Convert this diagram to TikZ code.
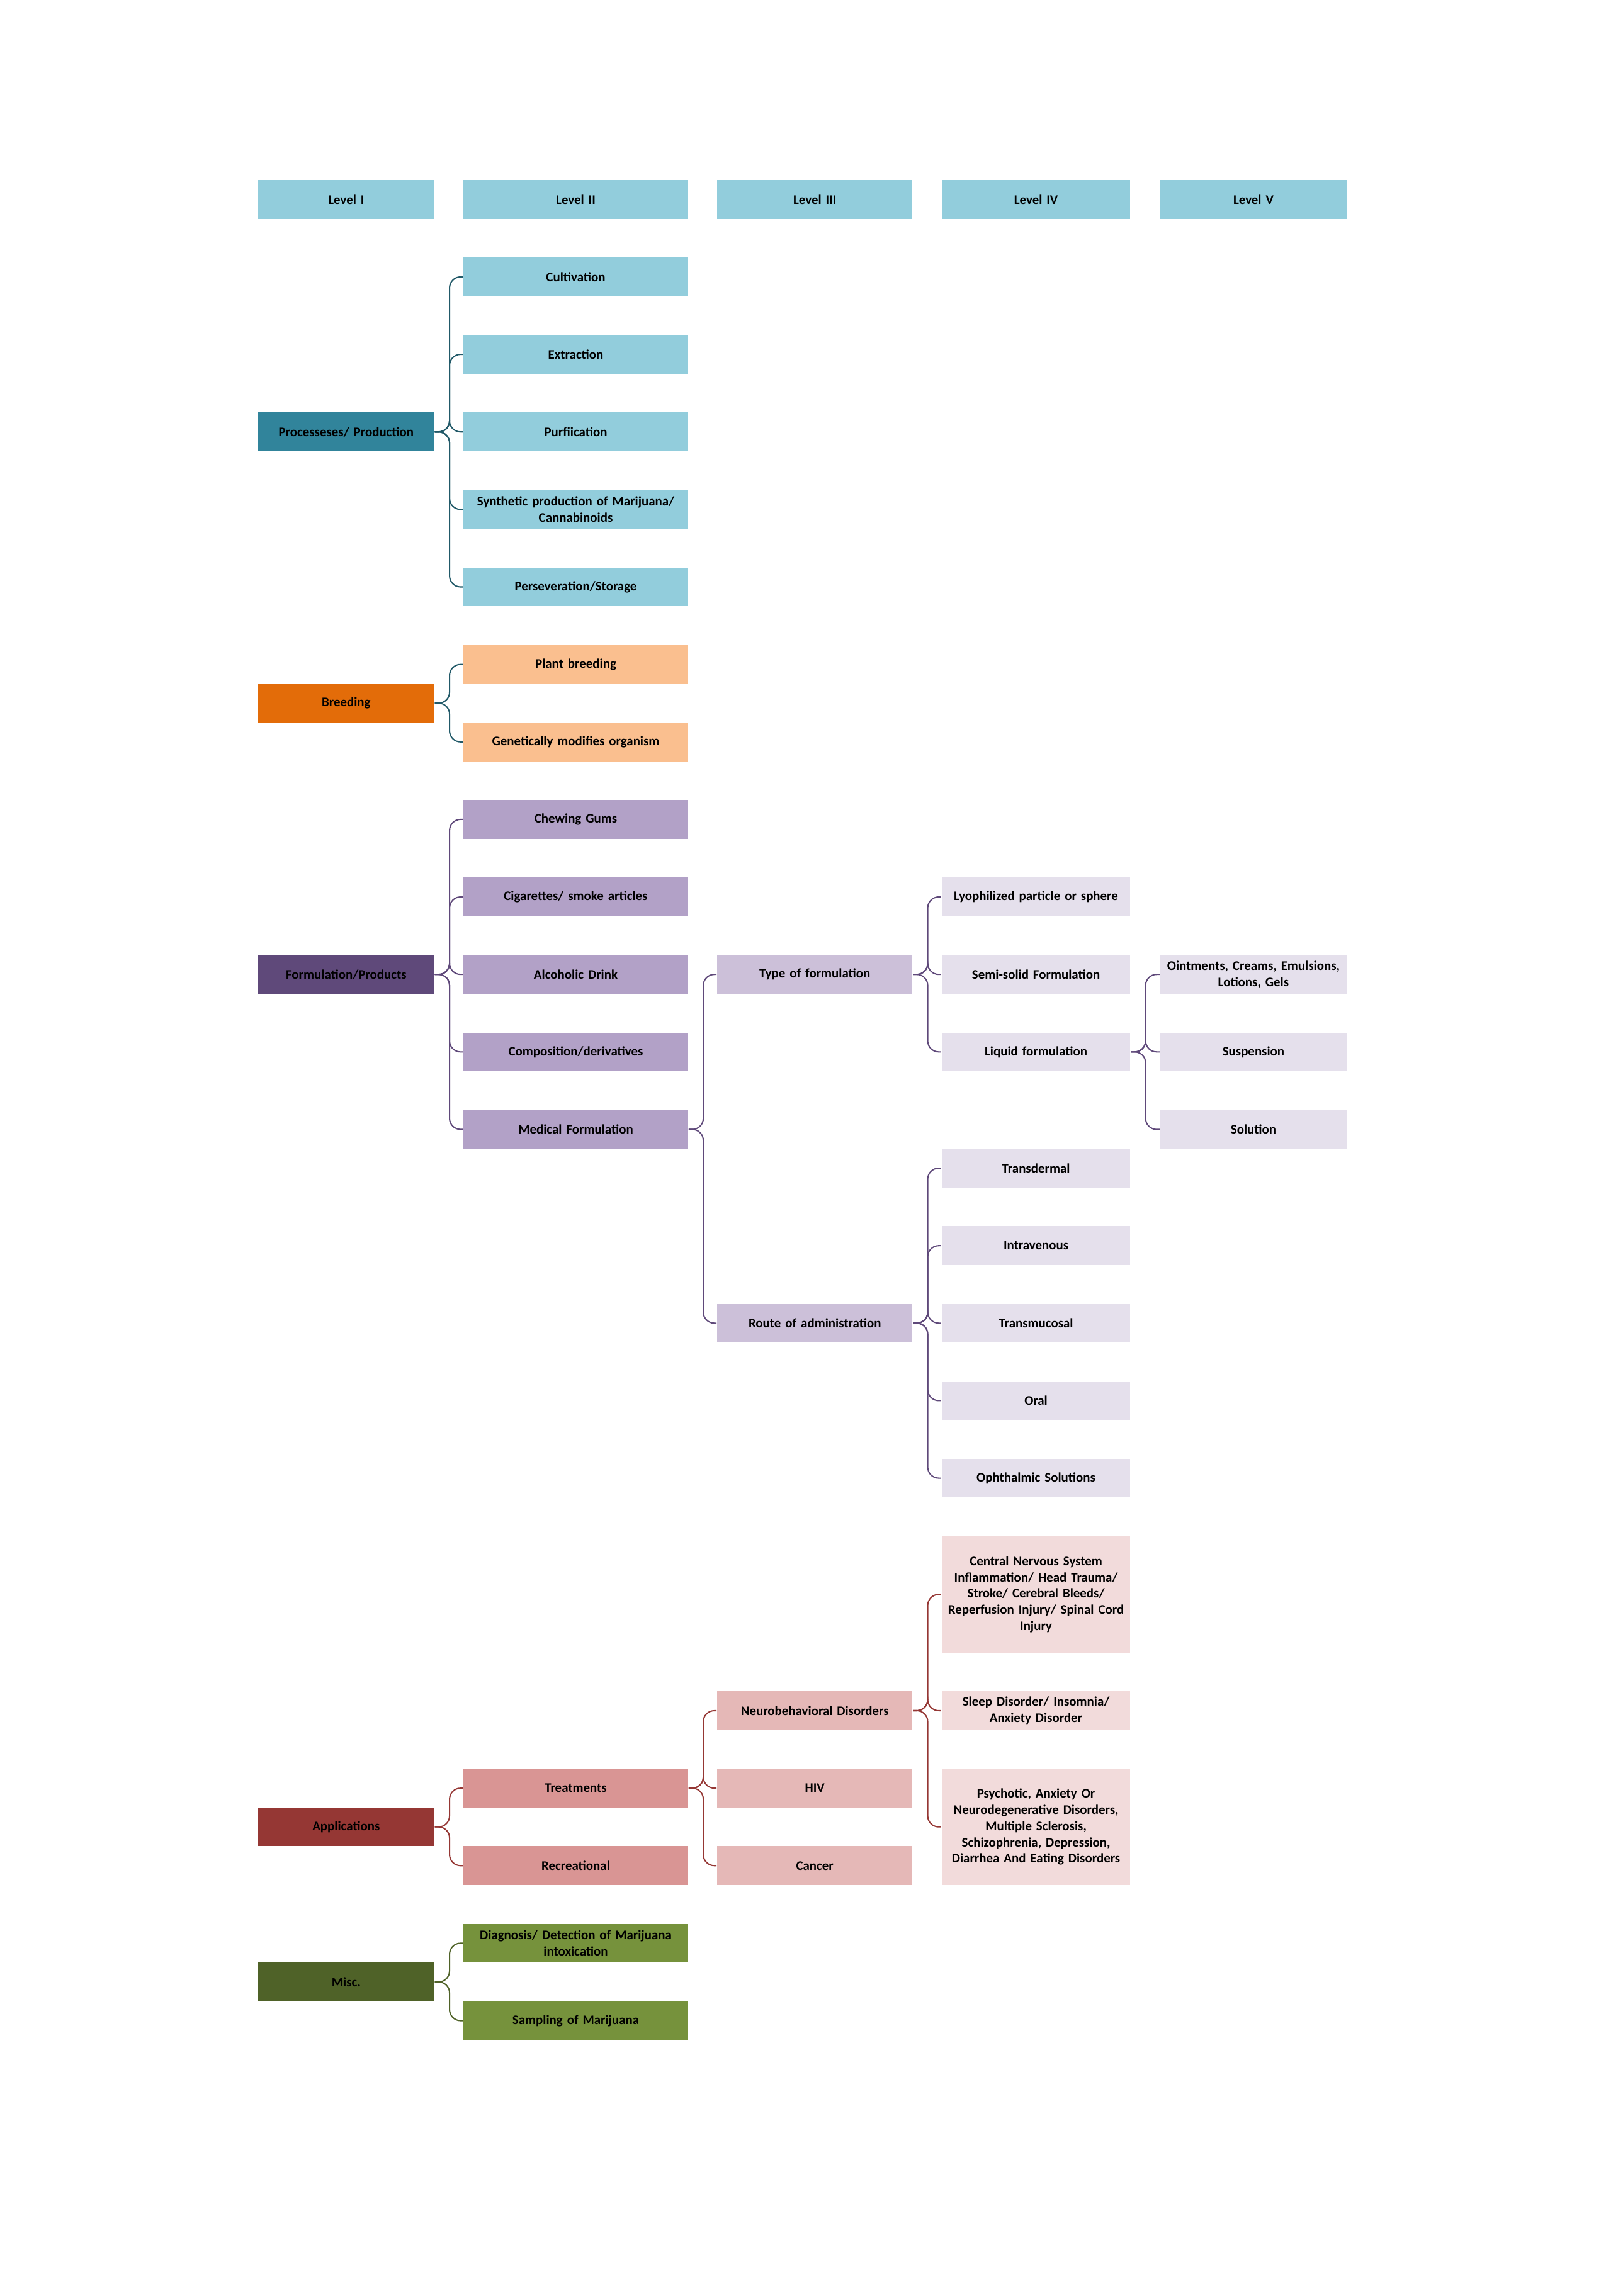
\documentclass[tikz,border=0pt]{standalone}
\usepackage{fontspec}
\setmainfont{Carlito}
\usepackage{tikz}
\definecolor{aqua}{HTML}{92CDDC}
\definecolor{tealdark}{HTML}{31849B}
\definecolor{tealline}{HTML}{215968}
\definecolor{orangedark}{HTML}{E36C09}
\definecolor{orangelight}{HTML}{FABF8F}
\definecolor{purpledark}{HTML}{5F497A}
\definecolor{purplemid}{HTML}{B2A1C7}
\definecolor{purplelight}{HTML}{CCC0D9}
\definecolor{purplepale}{HTML}{E5E0EC}
\definecolor{reddark}{HTML}{953734}
\definecolor{redmid}{HTML}{D99594}
\definecolor{redlight}{HTML}{E5B8B7}
\definecolor{redpale}{HTML}{F2DBDB}
\definecolor{greendark}{HTML}{4F6228}
\definecolor{greenmid}{HTML}{76923C}
\tikzstyle{box}=[rectangle,inner sep=0.5pt,minimum height=0.528cm,align=center,font=\bfseries\fontsize{5.1}{6.3}\selectfont]
\tikzstyle{lone}=[box,text width=2.362cm]
\tikzstyle{ltwo}=[box,text width=3.021cm]
\tikzstyle{lthree}=[box,text width=2.622cm]
\tikzstyle{lfour}=[box,text width=2.532cm]
\tikzstyle{lfive}=[box,text width=2.502cm]
\tikzstyle{tall}=[minimum height=1.584cm]
\tikzstyle{branch}=[rounded corners=0.15cm]

\begin{document}
\begin{tikzpicture}[x=1cm, y=-1.0556cm, line width=0.5pt]
    \useasboundingbox (0,-2.573) rectangle (21.8,27.053);
    % header row
    \node[lone,fill=aqua] at (4.714,0) (lvA) {Level I};
    \node[ltwo,fill=aqua] at (7.840,0) (lvB) {Level II};
    \node[lthree,fill=aqua] at (11.095,0) (lvC) {Level III};
    \node[lfour,fill=aqua] at (14.107,0) (lvD) {Level IV};
    \node[lfive,fill=aqua] at (17.068,0) (lvE) {Level V};
    % processes
    \node[lone,fill=tealdark] at (4.714,3) (proc) {Processeses/ Production};
    \node[ltwo,fill=aqua] at (7.840,1) (cult) {Cultivation};
    \node[ltwo,fill=aqua] at (7.840,2) (extr) {Extraction};
    \node[ltwo,fill=aqua] at (7.840,3) (purif) {Purfiication};
    \node[ltwo,fill=aqua] at (7.840,4) (synth) {Synthetic production of Marijuana/\\Cannabinoids};
    \node[ltwo,fill=aqua] at (7.840,5) (pers) {Perseveration/Storage};
    \foreach \c in {cult,extr,purif,synth,pers}
        \draw[tealline,branch] (proc.east) -- ++(0.2,0) |- (\c.west);
    % breeding
    \node[lone,fill=orangedark] at (4.714,6.5) (breed) {Breeding};
    \node[ltwo,fill=orangelight] at (7.840,6) (plant) {Plant breeding};
    \node[ltwo,fill=orangelight] at (7.840,7) (gmo) {Genetically modifies organism};
    \foreach \c in {plant,gmo}
        \draw[tealline,branch] (breed.east) -- ++(0.2,0) |- (\c.west);
    % formulation
    \node[lone,fill=purpledark] at (4.714,10) (form) {Formulation/Products};
    \node[ltwo,fill=purplemid] at (7.840,8) (gum) {Chewing Gums};
    \node[ltwo,fill=purplemid] at (7.840,9) (cig) {Cigarettes/ smoke articles};
    \node[ltwo,fill=purplemid] at (7.840,10) (alc) {Alcoholic Drink};
    \node[ltwo,fill=purplemid] at (7.840,11) (comp) {Composition/derivatives};
    \node[ltwo,fill=purplemid] at (7.840,12) (med) {Medical Formulation};
    \foreach \c in {gum,cig,alc,comp,med}
        \draw[purpledark,branch] (form.east) -- ++(0.2,0) |- (\c.west);
    \node[lthree,fill=purplelight] at (11.095,10) (type) {Type of formulation};
    \node[lthree,fill=purplelight] at (11.095,14.5) (route) {Route of administration};
    \foreach \c in {type,route}
        \draw[purpledark,branch] (med.east) -- ++(0.2,0) |- (\c.west);
    \node[lfour,fill=purplepale] at (14.107,9) (lyo) {Lyophilized particle or sphere};
    \node[lfour,fill=purplepale] at (14.107,10) (semi) {Semi-solid Formulation};
    \node[lfour,fill=purplepale] at (14.107,11) (liq) {Liquid formulation};
    \foreach \c in {lyo,semi,liq}
        \draw[purpledark,branch] (type.east) -- ++(0.2,0) |- (\c.west);
    \node[lfive,fill=purplepale] at (17.068,10) (oint) {Ointments, Creams, Emulsions,\\Lotions, Gels};
    \node[lfive,fill=purplepale] at (17.068,11) (susp) {Suspension};
    \node[lfive,fill=purplepale] at (17.068,12) (sol) {Solution};
    \foreach \c in {oint,susp,sol}
        \draw[purpledark,branch] (liq.east) -- ++(0.2,0) |- (\c.west);
    \node[lfour,fill=purplepale] at (14.107,12.5) (derm) {Transdermal};
    \node[lfour,fill=purplepale] at (14.107,13.5) (iv) {Intravenous};
    \node[lfour,fill=purplepale] at (14.107,14.5) (muc) {Transmucosal};
    \node[lfour,fill=purplepale] at (14.107,15.5) (oral) {Oral};
    \node[lfour,fill=purplepale] at (14.107,16.5) (oph) {Ophthalmic Solutions};
    \foreach \c in {derm,iv,muc,oral,oph}
        \draw[purpledark,branch] (route.east) -- ++(0.2,0) |- (\c.west);
    % applications
    \node[lone,fill=reddark] at (4.714,21) (appl) {Applications};
    \node[ltwo,fill=redmid] at (7.840,20.5) (treat) {Treatments};
    \node[ltwo,fill=redmid] at (7.840,21.5) (recr) {Recreational};
    \foreach \c in {treat,recr}
        \draw[reddark,branch] (appl.east) -- ++(0.2,0) |- (\c.west);
    \node[lthree,fill=redlight] at (11.095,19.5) (neuro) {Neurobehavioral Disorders};
    \node[lthree,fill=redlight] at (11.095,20.5) (hiv) {HIV};
    \node[lthree,fill=redlight] at (11.095,21.5) (canc) {Cancer};
    \foreach \c in {neuro,hiv,canc}
        \draw[reddark,branch] (treat.east) -- ++(0.2,0) |- (\c.west);
    \node[lfour,tall,fill=redpale] at (14.107,18) (cns) {Central Nervous System\\Inflammation/ Head Trauma/\\Stroke/ Cerebral Bleeds/\\Reperfusion Injury/ Spinal Cord\\Injury};
    \node[lfour,fill=redpale] at (14.107,19.5) (sleep) {Sleep Disorder/ Insomnia/\\Anxiety Disorder};
    \node[lfour,tall,fill=redpale] at (14.107,21) (psy) {Psychotic, Anxiety Or\\Neurodegenerative Disorders,\\Multiple Sclerosis,\\Schizophrenia, Depression,\\Diarrhea And Eating Disorders};
    \foreach \c in {cns,sleep,psy}
        \draw[reddark,branch] (neuro.east) -- ++(0.2,0) |- (\c.west);
    % misc
    \node[lone,fill=greendark] at (4.714,23) (misc) {Misc.};
    \node[ltwo,fill=greenmid] at (7.840,22.5) (diag) {Diagnosis/ Detection of Marijuana\\intoxication};
    \node[ltwo,fill=greenmid] at (7.840,23.5) (samp) {Sampling of Marijuana};
    \foreach \c in {diag,samp}
        \draw[greendark,branch] (misc.east) -- ++(0.2,0) |- (\c.west);
\end{tikzpicture}
\end{document}
